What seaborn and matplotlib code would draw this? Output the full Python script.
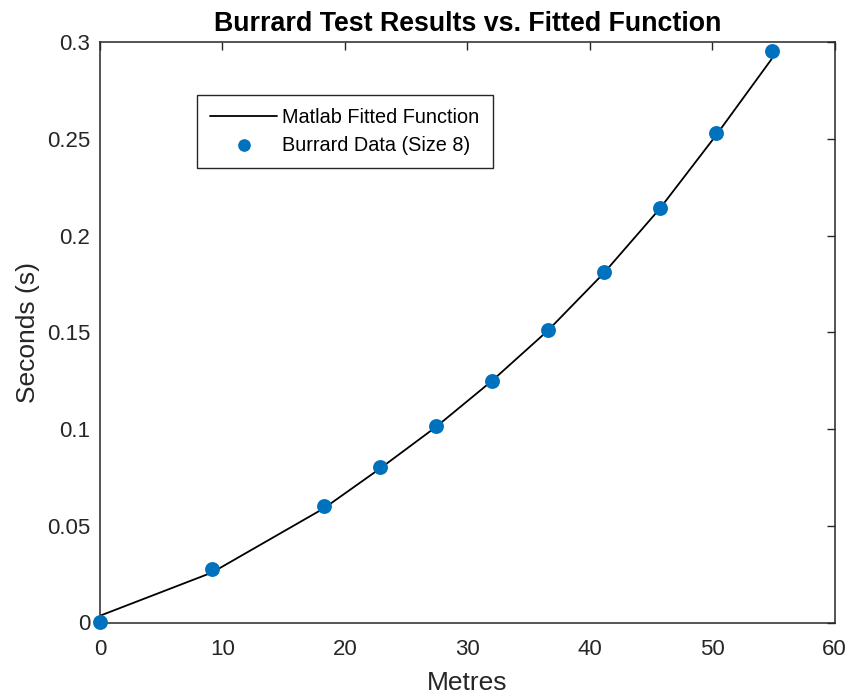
import matplotlib
matplotlib.use("Agg")
import matplotlib.pyplot as plt
import seaborn as sns
import pandas as pd

metres = [0.0, 9.144, 18.288, 22.86, 27.432, 32.004, 36.576, 41.148, 45.72, 50.292, 54.864]
seconds_data = [0.0005, 0.0278, 0.0603, 0.0803, 0.1014, 0.1250, 0.1513, 0.1812, 0.2142, 0.2528, 0.2956]
seconds_fit = [0.0035, 0.0258, 0.0590, 0.0795, 0.1010, 0.1248, 0.1508, 0.1805, 0.2138, 0.2515, 0.2912]

x_ticks = [0, 10, 20, 30, 40, 50, 60]
y_ticks = [0, 0.05, 0.1, 0.15, 0.2, 0.25, 0.3]
y_tick_labels = ["0", "0.05", "0.1", "0.15", "0.2", "0.25", "0.3"]

title = "Burrard Test Results vs. Fitted Function"
x_label = "Metres"
y_label = "Seconds (s)"
fit_label = "Matlab Fitted Function"
data_label = "Burrard Data (Size 8)"

sns.set_theme(style="white")
plt.rcParams["font.family"] = ["Liberation Sans", "DejaVu Sans"]

df = pd.DataFrame({"Metres": metres, "Data": seconds_data, "Fit": seconds_fit})

fig = plt.figure(figsize=(8.48, 6.96), dpi=100)
ax = fig.add_axes([100 / 848, 1 - 622.5 / 696, 734.5 / 848, 580.5 / 696])

sns.lineplot(data=df, x="Metres", y="Fit", ax=ax, color="black", linewidth=1.3,
             label=fit_label, zorder=2)
sns.scatterplot(data=df, x="Metres", y="Data", ax=ax, color="#0072BD", s=115,
                edgecolor="#0072BD", linewidth=0, label=data_label, zorder=3,
                clip_on=False)

ax.set_xlim(0, 60)
ax.set_ylim(0, 0.3)
ax.set_xticks(x_ticks)
ax.set_xticklabels([str(t) for t in x_ticks])
ax.set_yticks(y_ticks)
ax.set_yticklabels(y_tick_labels)

txt_color = "#262626"
ax.tick_params(axis="both", direction="in", length=6, width=1.0, color=txt_color,
               labelsize=16, labelcolor=txt_color, top=True, right=True)
ax.tick_params(axis="x", pad=12)
ax.tick_params(axis="y", pad=7)
for sp in ax.spines.values():
    sp.set_color(txt_color)
    sp.set_linewidth(1.1)
    sp.set_visible(True)

ax.set_xlabel(x_label, fontsize=19, color=txt_color, labelpad=8)
ax.set_ylabel(y_label, fontsize=19, color=txt_color, labelpad=5)
ax.set_title(title, fontsize=19.3, fontweight="bold", color="black", pad=8)

leg = ax.legend(loc="upper left", bbox_to_anchor=(0.132, 0.909), borderaxespad=0,
                fontsize=14.3, frameon=True, fancybox=False, shadow=False,
                handlelength=3.4, handletextpad=0.25, labelspacing=0.45,
                borderpad=0.65, framealpha=1, markerscale=0.85)
leg.get_frame().set_edgecolor(txt_color)
leg.get_frame().set_linewidth(1.0)
for t in leg.get_texts():
    t.set_color("black")

fig.savefig("out.png", dpi=100)
